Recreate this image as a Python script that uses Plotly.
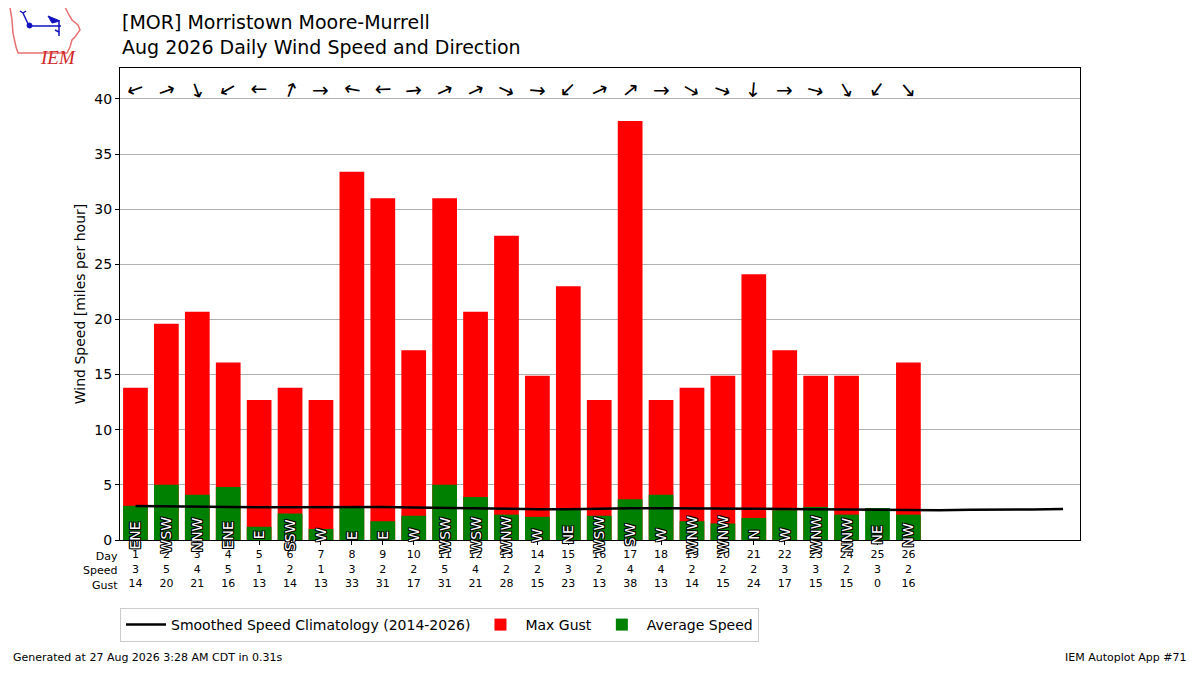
import plotly.graph_objects as go

# ---- data ----
days = list(range(1, 27))
max_gust = [13.8, 19.6, 20.7, 16.1, 12.7, 13.8, 12.7, 33.4, 31.0, 17.2, 31.0, 20.7, 27.6,
            14.9, 23.0, 12.7, 38.0, 12.7, 13.8, 14.9, 24.1, 17.2, 14.9, 14.9, 0.0, 16.1]
avg_speed = [3.1, 5.0, 4.1, 4.8, 1.2, 2.4, 1.0, 3.0, 1.7, 2.2, 5.0, 3.9, 2.3,
             2.1, 2.8, 2.2, 3.7, 4.1, 1.7, 1.5, 2.0, 2.7, 3.0, 2.3, 2.9, 2.3]
speed_lbl = [3, 5, 4, 5, 1, 2, 1, 3, 2, 2, 5, 4, 2, 2, 3, 2, 4, 4, 2, 2, 2, 3, 3, 2, 3, 2]
gust_lbl = [14, 20, 21, 16, 13, 14, 13, 33, 31, 17, 31, 21, 28, 15, 23, 13, 38, 13, 14, 15,
            24, 17, 15, 15, 0, 16]
dir_txt = ["ENE", "WSW", "NNW", "ENE", "E", "SSW", "W", "E", "E", "W", "WSW", "WSW", "WNW",
           "W", "NE", "WSW", "SW", "W", "WNW", "WNW", "N", "W", "WNW", "NNW", "NE", "NW"]
dir_deg = [70, 250, 340, 60, 90, 200, 270, 100, 88, 265, 245, 245, 295,
           275, 45, 245, 230, 270, 300, 290, 5, 270, 285, 330, 35, 320]

clim_days = list(range(1, 32))
clim_speed = [3.08, 3.04, 3.00, 2.97, 2.96, 2.97, 3.00, 3.02, 3.00, 2.95, 2.90, 2.84, 2.81,
              2.79, 2.78, 2.84, 2.87, 2.87, 2.87, 2.87, 2.84, 2.80, 2.78, 2.74, 2.70, 2.66,
              2.70, 2.75, 2.73, 2.77, 2.81]

FONT = "DejaVu Sans"

# page is shown with an 8px body margin, so the figure is shrunk to fit the window
OFF = 8
W, H = 1200 - 2 * OFF, 675 - 2 * OFF
ML, MT = 120 - OFF, 68 - OFF
MR = W - (1080 - OFF)
MB = H - (540 - OFF)


def pp(xp, yp):
    """window pixel -> paper coords"""
    return (xp - OFF - ML) / (W - ML - MR), (H - MB - (yp - OFF)) / (H - MT - MB)


fig = go.Figure()
fig.add_trace(go.Bar(x=days, y=max_gust, name="Max Gust", marker_color="red",
                     marker_line_width=0, width=0.8, opacity=1, legendrank=2))
fig.add_trace(go.Bar(x=days, y=avg_speed, name="Average Speed", marker_color="green",
                     marker_line_width=0, width=0.8, opacity=1, legendrank=3))
fig.add_trace(go.Scatter(x=clim_days, y=clim_speed, mode="lines",
                         name="Smoothed Speed Climatology (2014-2026)",
                         line=dict(color="black", width=2.5), legendrank=1))

ann = []
outline = "1px 1px 0 #000, -1px -1px 0 #000, 1px -1px 0 #000, -1px 1px 0 #000, 0 1px 0 #000, 0 -1px 0 #000"
for d, txt, deg in zip(days, dir_txt, dir_deg):
    # direction name inside the bar
    ann.append(dict(x=d, y=0.45, xref="x", yref="y", text=txt, showarrow=False,
                    textangle=-90, font=dict(family=FONT, size=14, color="white", shadow=outline)))
    # arrow pointing where the wind blows to
    ann.append(dict(x=d, y=40.8, xref="x", yref="y", text="→", showarrow=False,
                    textangle=deg + 90, font=dict(family=FONT, size=20, color="black")))

ann.append(dict(x=0, y=pp(0, 548)[1], xref="paper", yref="paper", xanchor="right", yanchor="top",
                text="Day<br>Speed<br>Gust", align="right", showarrow=False,
                font=dict(family=FONT, size=11, color="black")))

tx, ty = pp(120, 60)
ann.append(dict(x=tx, y=ty, xref="paper", yref="paper", xanchor="left", yanchor="bottom",
                showarrow=False, align="left",
                text="[MOR] Morristown Moore-Murrell<br>Aug 2026 Daily Wind Speed and Direction",
                font=dict(family=FONT, size=19, color="black")))
fx, fy = pp(11, 666)
ann.append(dict(x=fx, y=fy, xref="paper", yref="paper", showarrow=False,
                text="Generated at 27 Aug 2026 3:28 AM CDT in 0.31s", xanchor="left",
                yanchor="bottom", font=dict(family=FONT, size=11, color="black")))
gx, gy = pp(1189, 666)
ann.append(dict(x=gx, y=gy, xref="paper", yref="paper", showarrow=False,
                text="IEM Autoplot App #71", xanchor="right",
                yanchor="bottom", font=dict(family=FONT, size=11, color="black")))

# IEM logo, roughly
iowa = [(10, 7), (65, 7), (68, 13), (72, 20), (78, 25), (80, 30), (75, 37), (72, 40),
        (70, 47), (67, 53), (18, 53), (16, 47), (13, 33), (12, 20)]
path = "M " + " L ".join("%.4f,%.4f" % pp(a, b) for a, b in iowa) + " Z"
shapes = [dict(type="path", path=path, xref="paper", yref="paper",
               line=dict(color="#e87070", width=1.5), fillcolor="rgba(0,0,0,0)")]
for (a1, b1), (a2, b2) in [((29, 26), (61, 26)), ((29, 26), (23, 13)), ((23, 13), (20, 11)),
                           ((23, 13), (26, 11)), ((59, 22), (59, 36)), ((59, 32), (55, 30))]:
    x0, y0 = pp(a1, b1)
    x1, y1 = pp(a2, b2)
    shapes.append(dict(type="line", x0=x0, y0=y0, x1=x1, y1=y1, xref="paper", yref="paper",
                       line=dict(color="#1010c0", width=1.5)))
tail = [(48, 16), (60, 21), (52, 23)]
shapes.append(dict(type="path", xref="paper", yref="paper", line=dict(color="#1010c0", width=1),
                   fillcolor="#1010c0",
                   path="M " + " L ".join("%.4f,%.4f" % pp(a, b) for a, b in tail) + " Z"))
c0 = pp(27, 28)
c1 = pp(32, 23)
shapes.append(dict(type="circle", xref="paper", yref="paper", x0=c0[0], y0=c0[1], x1=c1[0],
                   y1=c1[1], fillcolor="#1010c0", line=dict(color="#1010c0", width=1)))
lx, ly = pp(38, 45)
ann.append(dict(x=lx, y=ly, xref="paper", yref="paper", text="<i>IEM</i>", showarrow=False,
                font=dict(family="Liberation Serif", size=19, color="#d02828")))

fig.update_layout(
    width=W, height=H,
    margin=dict(l=ML, r=MR, t=MT, b=MB),
    barmode="overlay",
    plot_bgcolor="white", paper_bgcolor="white",
    font=dict(family=FONT, size=14, color="black"),
    annotations=ann, shapes=shapes,
    showlegend=True,
    legend=dict(orientation="h", x=0, y=pp(0, 608)[1], xanchor="left", yanchor="top",
                bordercolor="#cccccc", borderwidth=1, font=dict(family=FONT, size=14),
                traceorder="normal", itemwidth=40),
    xaxis=dict(range=[0.5, 31.55], tickvals=days,
               ticktext=["%d<br>%d<br>%d" % (d, s, g) for d, s, g in zip(days, speed_lbl, gust_lbl)],
               tickfont=dict(size=11), ticks="outside", ticklen=4, tickcolor="black",
               showgrid=False, showline=True, linecolor="black", mirror=True, zeroline=False),
    yaxis=dict(range=[0, 42.8], dtick=5, ticks="outside", ticklen=4, tickcolor="black",
               tickfont=dict(size=14),
               showgrid=True, gridcolor="#b0b0b0", showline=True, linecolor="black",
               mirror=True, zeroline=False,
               title=dict(text="Wind Speed [miles per hour]", standoff=5,
                          font=dict(family=FONT, size=14))),
)

fig.write_html("out.html")
